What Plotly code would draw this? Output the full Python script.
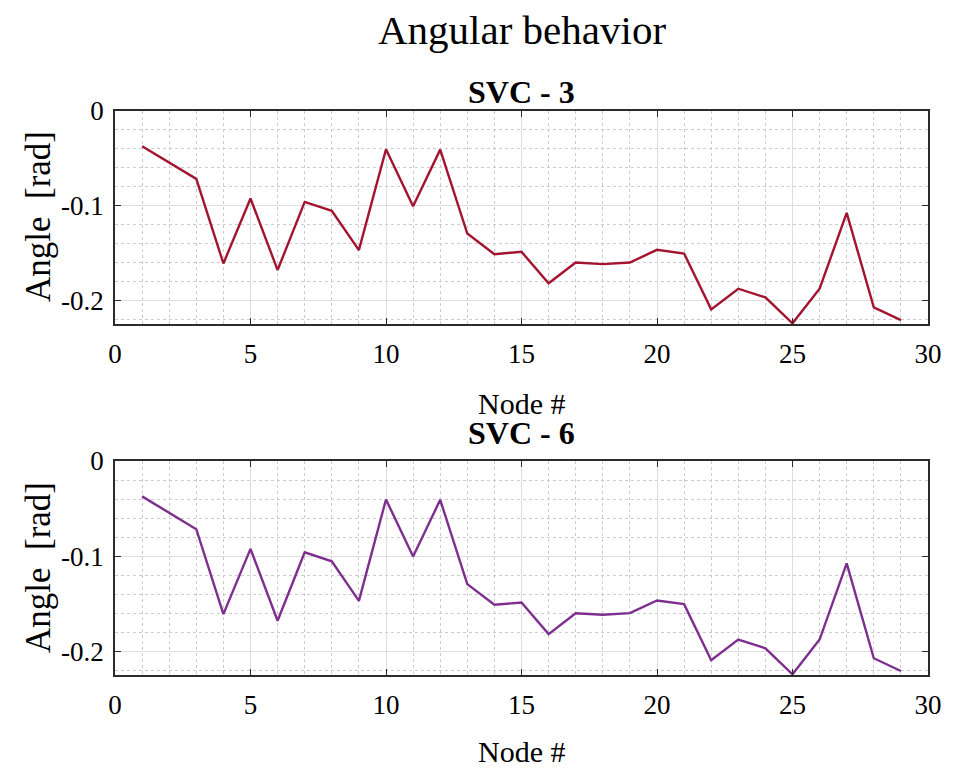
import plotly.graph_objects as go
from plotly.subplots import make_subplots

nodes = list(range(1, 30))
angle_svc3 = [-0.0372, -0.0545, -0.0717, -0.161, -0.0924, -0.168, -0.096, -0.1055, -0.147, -0.0404,
              -0.1005, -0.0408, -0.1294, -0.1512, -0.1487, -0.182, -0.160, -0.1617, -0.160, -0.1466,
              -0.1505, -0.2095, -0.1877, -0.1969, -0.2243, -0.1877, -0.1076, -0.2074, -0.2208]
angle_svc6 = [-0.0372, -0.0545, -0.0717, -0.161, -0.0924, -0.168, -0.096, -0.1055, -0.147, -0.0404,
              -0.1005, -0.0408, -0.1294, -0.1512, -0.1487, -0.182, -0.160, -0.1617, -0.160, -0.1466,
              -0.1505, -0.2095, -0.1877, -0.1969, -0.2243, -0.1877, -0.1076, -0.2074, -0.2208]
x_tickvals = [0, 5, 10, 15, 20, 25, 30]
x_ticktext = ["0", "5", "10", "15", "20", "25", "30"]
y_tickvals = [0, -0.1, -0.2]
y_ticktext = ["0", "-0.1", "-0.2"]

FONT = "Liberation Serif, Times New Roman, serif"

fig = make_subplots(rows=2, cols=1, vertical_spacing=0.0)
fig.add_trace(go.Scatter(x=nodes, y=angle_svc3, mode="lines",
                         line=dict(color="#A2142F", width=2.4), showlegend=False), row=1, col=1)
fig.add_trace(go.Scatter(x=nodes, y=angle_svc6, mode="lines",
                         line=dict(color="#7E2F8E", width=2.4), showlegend=False), row=2, col=1)

axcommon = dict(showline=True, linecolor="#2b2b2b", linewidth=1.5, mirror="ticks",
                ticks="inside", ticklen=6, tickcolor="#2b2b2b", tickwidth=1.2,
                showgrid=True, gridcolor="#dedede", gridwidth=1, zeroline=False,
                tickfont=dict(family=FONT, size=27, color="black"))

fig.update_xaxes(range=[0, 30], tickvals=x_tickvals, ticktext=x_ticktext,
                 ticklabelstandoff=5,
                 minor=dict(dtick=1, tick0=0, showgrid=True, gridcolor="#cccccc",
                            griddash="dot", gridwidth=1, ticks=""),
                 **axcommon)
fig.update_yaxes(range=[-0.225, 0], tickvals=y_tickvals, ticktext=y_ticktext,
                 ticklabelstandoff=4,
                 minor=dict(dtick=0.02, tick0=0, showgrid=True, gridcolor="#cccccc",
                            griddash="dot", gridwidth=1, ticks=""),
                 **axcommon)

fig.update_layout(
    width=945, height=766,
    margin=dict(l=107, r=25, t=103, b=99),
    paper_bgcolor="white", plot_bgcolor="white",
    font=dict(family=FONT, color="black"),
)
fig.layout.yaxis.domain = [0.6223, 1.0]
fig.layout.yaxis2.domain = [0.0, 0.3794]

annots = [
    dict(text="Angular behavior", x=0.5, y=1.143, size=41),
    dict(text="<b>SVC - 3</b>", x=0.5, y=1.0337, size=32),
    dict(text="<b>SVC - 6</b>", x=0.5, y=0.4290, size=32),
    dict(text="Node #", x=0.5, y=0.4822, size=30),
    dict(text="Node #", x=0.5, y=-0.1365, size=30),
]
for a in annots:
    fig.add_annotation(text=a["text"], x=a["x"], y=a["y"], xref="paper", yref="paper",
                       xanchor="center", yanchor="middle", showarrow=False,
                       font=dict(family=FONT, size=a["size"], color="black"))
for yy in [0.812, 0.1897]:
    fig.add_annotation(text="Angle  [rad]", x=-0.0947, y=yy, xref="paper", yref="paper",
                       xanchor="center", yanchor="middle", showarrow=False, textangle=-90,
                       font=dict(family=FONT, size=35, color="black"))

fig.write_html("out.html")
